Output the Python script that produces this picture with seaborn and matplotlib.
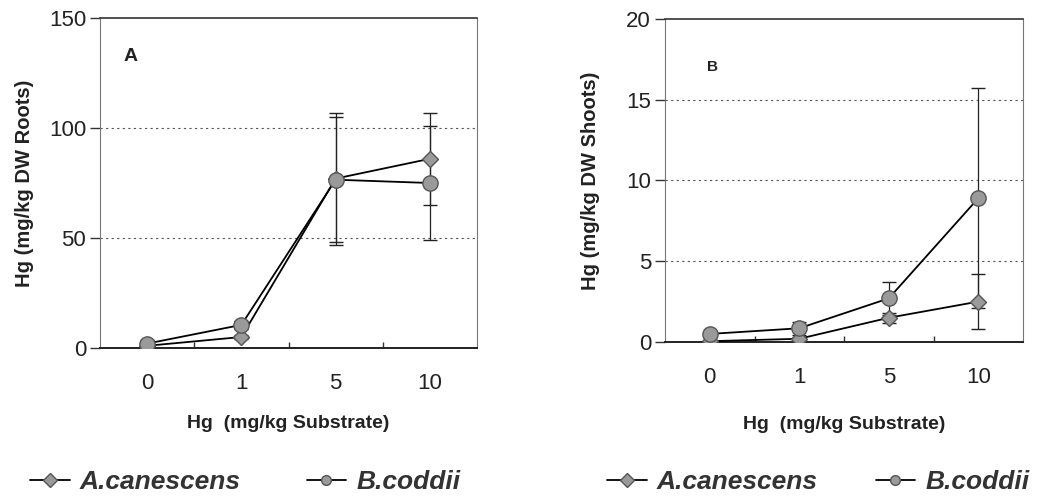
import numpy as np
import pandas as pd
import matplotlib
matplotlib.use('Agg')
import matplotlib.pyplot as plt
import seaborn as sns
from matplotlib.lines import Line2D
from matplotlib.ticker import FixedLocator

# dose levels (categorical)
doses = ['0', '1', '5', '10']
species = ['A.canescens', 'B.coddii']

# panel A - roots
roots_acan = [1.0, 5.0, 77.0, 86.0]
roots_acan_err = [0.5, 1.0, 30.0, 21.0]
roots_bcod = [2.0, 10.5, 76.5, 75.0]
roots_bcod_err = [1.5, 2.0, 28.5, 26.0]

# panel B - shoots
shoots_acan = [0.05, 0.2, 1.5, 2.5]
shoots_acan_err = [0.02, 0.1, 0.3, 1.7]
shoots_bcod = [0.5, 0.85, 2.7, 8.9]
shoots_bcod_err = [0.2, 0.4, 1.0, 6.8]

def make_df(a, ae, b, be):
    rows = []
    for sp, vals, errs in [(species[0], a, ae), (species[1], b, be)]:
        for i, d in enumerate(doses):
            rows.append({'pos': i, 'dose': d, 'species': sp, 'hg': vals[i], 'err': errs[i]})
    return pd.DataFrame(rows)

df_roots = make_df(roots_acan, roots_acan_err, roots_bcod, roots_bcod_err)
df_shoots = make_df(shoots_acan, shoots_acan_err, shoots_bcod, shoots_bcod_err)

sns.set_theme(style='white')
plt.rcParams['font.family'] = ['Liberation Sans', 'DejaVu Sans']

W, H = 1038, 496
fig = plt.figure(figsize=(W / 100, H / 100), dpi=100)
axA = fig.add_axes([100 / W, 1 - 348 / H, 377 / W, 330 / H])
axB = fig.add_axes([665 / W, 1 - 342 / H, 358 / W, 323 / H])

markers = {species[0]: 'D', species[1]: 'o'}
msizes = {species[0]: 8, species[1]: 11}
txt = '#222222'

def draw(ax, df, ymax, yticks, grid, ylabel, xpad, ypad):
    for g in grid:
        ax.axhline(g, color='#555555', lw=0.8, ls=(0, (2, 3)), zorder=0)
    for sp in species:
        sub = df[df['species'] == sp]
        ax.errorbar(sub['pos'], sub['hg'], yerr=sub['err'], fmt='none',
                    ecolor='#222222', elinewidth=0.9, capsize=5, capthick=1.0, zorder=2)
        sns.lineplot(data=sub, x='pos', y='hg', ax=ax, color='black', lw=1.3,
                     marker=markers[sp], markersize=msizes[sp],
                     markerfacecolor='#9a9a9a', markeredgecolor='#555555',
                     markeredgewidth=1.0, zorder=3, legend=False)
    ax.set_xlim(-0.5, len(doses) - 0.5)
    ax.set_ylim(0, ymax)
    ax.set_yticks(yticks)
    ax.set_xticks(range(len(doses)))
    ax.set_xticklabels(doses)
    ax.xaxis.set_minor_locator(FixedLocator(np.arange(0.5, len(doses) - 1, 1.0)))
    ax.tick_params(axis='x', which='major', length=0, pad=18, labelsize=16, labelcolor=txt)
    ax.tick_params(axis='x', which='minor', direction='in', length=4, width=1, color='#333333', bottom=True)
    ax.tick_params(axis='y', which='major', direction='out', length=7, width=1, left=True,
                   color='#333333', labelsize=16, pad=3, labelcolor=txt)
    for s in ax.spines.values():
        s.set_color('#777777')
        s.set_linewidth(0.8)
    ax.spines['bottom'].set_color('#222222')
    ax.spines['bottom'].set_linewidth(1.4)
    ax.spines['top'].set_color('#333333')
    ax.spines['top'].set_linewidth(1.2)
    ax.set_xlabel('Hg  (mg/kg Substrate)', fontsize=14, fontweight='bold', labelpad=xpad, color=txt)
    ax.set_ylabel(ylabel, fontsize=14.5, fontweight='bold', labelpad=ypad, color=txt)

draw(axA, df_roots, 150, [0, 50, 100, 150], [50, 100], 'Hg (mg/kg DW Roots)', 15, 11)
axA.text(0.062, 0.87, 'A', transform=axA.transAxes, fontsize=14, fontweight='bold', color=txt)
draw(axB, df_shoots, 20, [0, 5, 10, 15, 20], [5, 10, 15], 'Hg (mg/kg DW Shoots)', 20, 19)
axB.text(0.118, 0.84, 'B', transform=axB.transAxes, fontsize=11, fontweight='bold', color=txt)

handles = [Line2D([], [], color='black', lw=1.3, marker=markers[sp], markersize=7,
                  markerfacecolor='#9a9a9a', markeredgecolor='#555555') for sp in species]
for x0, cs in [(30, 2.5), (607, 2.2)]:
    leg = fig.legend(handles, species, loc='center left', bbox_to_anchor=(x0 / W, 1 - 482 / H),
                     ncol=2, frameon=False, handlelength=1.5, handletextpad=0.38,
                     columnspacing=cs, borderpad=0, borderaxespad=0,
                     prop={'size': 19, 'style': 'italic', 'weight': 'bold'})
    for t in leg.get_texts():
        t.set_color('#333333')

fig.savefig('out.png', dpi=100)
